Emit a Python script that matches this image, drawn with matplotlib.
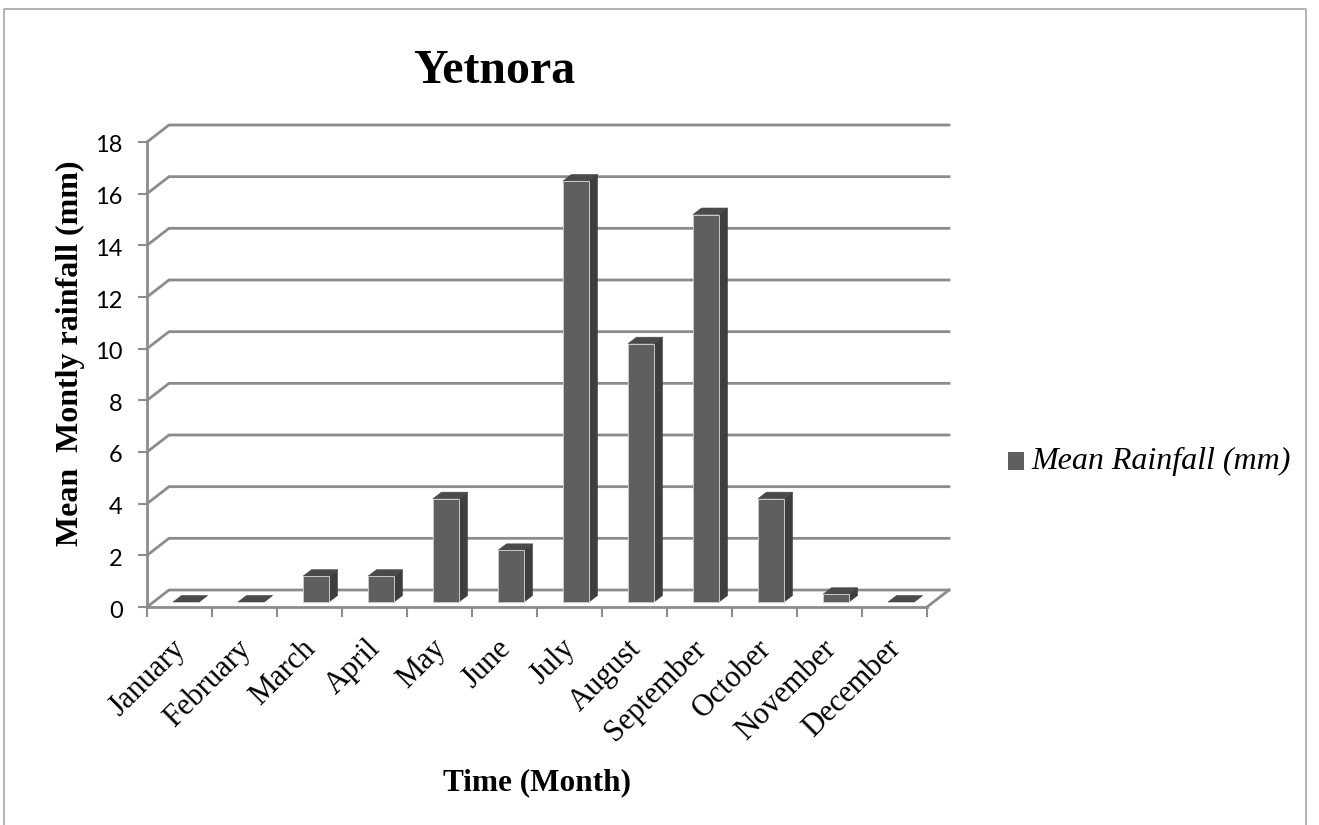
"""Pseudo-3D column chart of mean monthly rainfall at Yetnora."""

import matplotlib
matplotlib.use("Agg")
import matplotlib.pyplot as plt
from matplotlib.legend_handler import HandlerPatch
from matplotlib.lines import Line2D
from matplotlib.patches import Patch, Polygon, Rectangle
from matplotlib.transforms import ScaledTranslation

MONTHS = ["January", "February", "March", "April", "May", "June", "July",
          "August", "September", "October", "November", "December"]
RAINFALL = [0, 0, 1, 1, 4, 2, 16.3, 10, 15, 4, 0.3, 0]
Y_TICKS = [0, 2, 4, 6, 8, 10, 12, 14, 16, 18]

W, H = 1319, 825
GREY = "#8c8c8c"
FRONT = "#5f5f5f"
SIDE = "#3e3e3e"
TOP = "#4a4a4a"

plt.rcParams["font.family"] = ["Liberation Serif", "DejaVu Serif"]


def lowered_square(legend, orig_handle, xdescent, ydescent, width, height, fontsize):
    # legend swatch sits a little lower than the default spot
    return Rectangle((-xdescent, -ydescent - 3), width, height)


fig = plt.figure(figsize=(W / 100, H / 100), dpi=100)

# axes box in pixels: category axis 147-927, value axis 607-142
left, right, bottom, top = 147, 927, 607, 142
ax = fig.add_axes([left / W, 1 - bottom / H, (right - left) / W, (bottom - top) / H])
ax.set_xlim(0, 12)
ax.set_ylim(0, 18)
ax.patch.set_visible(False)

px_x = 12 / (right - left)
px_y = 18 / (bottom - top)

# wall depth
wall_dx, wall_dy = 22 * px_x, 17 * px_y
for tick in Y_TICKS:
    ax.plot([0, wall_dx, 12 + wall_dx], [tick, tick + wall_dy, tick + wall_dy],
            color=GREY, lw=2, clip_on=False, zorder=1, solid_joinstyle="miter")
ax.plot([12, 12 + wall_dx], [0, wall_dy], color=GREY, lw=2, clip_on=False, zorder=1)

# bars
bar_w = 26 * px_x
off_x, off_y = 6.5 * px_x, 5 * px_y
depth_x, depth_y = 8.5 * px_x, 6.5 * px_y
for i, val in enumerate(RAINFALL):
    x0 = i + 0.5 + off_x - bar_w / 2
    x1 = x0 + bar_w
    y0 = off_y
    y1 = off_y + val
    ax.add_patch(Polygon([(x1, y0), (x1 + depth_x, y0 + depth_y),
                          (x1 + depth_x, y1 + depth_y), (x1, y1)],
                         facecolor=SIDE, edgecolor=SIDE, lw=0.4,
                         clip_on=False, zorder=3))
    ax.add_patch(Polygon([(x0, y1), (x0 + depth_x, y1 + depth_y),
                          (x1 + depth_x, y1 + depth_y), (x1, y1)],
                         facecolor=TOP, edgecolor=TOP, lw=0.4,
                         clip_on=False, zorder=3))
    ax.add_patch(Rectangle((x0, y0), bar_w, val, facecolor=FRONT,
                           edgecolor="#c8c8c8", lw=0.7, clip_on=False, zorder=4))

for name in ("top", "right"):
    ax.spines[name].set_visible(False)
for name in ("left", "bottom"):
    ax.spines[name].set_color(GREY)
    ax.spines[name].set_linewidth(2)
    ax.spines[name].set_zorder(2)

ax.set_yticks(Y_TICKS)
ax.set_xticks(range(13))
ax.set_xticklabels([""] * 13)
ax.tick_params(axis="y", length=6.5, width=1.5, color=GREY, labelsize=17, pad=11)
nudge = ScaledTranslation(0, -2 / 100, fig.dpi_scale_trans)
for label in ax.get_yticklabels():
    label.set_family(["Lato", "DejaVu Sans"])
    label.set_transform(label.get_transform() + nudge)
ax.tick_params(axis="x", length=7, width=1.5, color=GREY)

# month labels, rotated and anchored under each category
for i, month in enumerate(MONTHS):
    ax.annotate(month, xy=(i + 0.5, 0), xytext=(-6, -19.5), textcoords="offset points",
                ha="right", va="top", rotation=45, rotation_mode="anchor",
                fontsize=22, color="black", annotation_clip=False)

fig.text(494 / W, 1 - 71 / H, "Yetnora", ha="center", va="center",
         fontsize=34.5, fontweight="bold")
fig.text(537 / W, 1 - 783 / H, "Time (Month)", ha="center", va="center",
         fontsize=22.5, fontweight="bold")
fig.text(70 / W, 1 - 353 / H, "Mean  Montly rainfall (mm)", ha="center", va="center",
         rotation=90, fontsize=23, fontweight="bold")

fig.legend(handles=[Patch(facecolor=FRONT, edgecolor="none", label="Mean Rainfall (mm)")],
           loc="center left", bbox_to_anchor=(998 / W, 1 - 461 / H), frameon=False,
           prop={"size": 23, "style": "italic"}, handlelength=0.5, handleheight=0.5,
           handletextpad=0.25, borderpad=0, borderaxespad=0.3,
           handler_map={Patch: HandlerPatch(patch_func=lowered_square)})

# outer chart frame
frame_color = "#a6a6a6"
fig.add_artist(Line2D([4 / W, 4 / W, 1306 / W, 1306 / W],
                      [0, 1 - 9 / H, 1 - 9 / H, 0], color=frame_color, lw=1.2))

fig.savefig("out.png", dpi=100)
